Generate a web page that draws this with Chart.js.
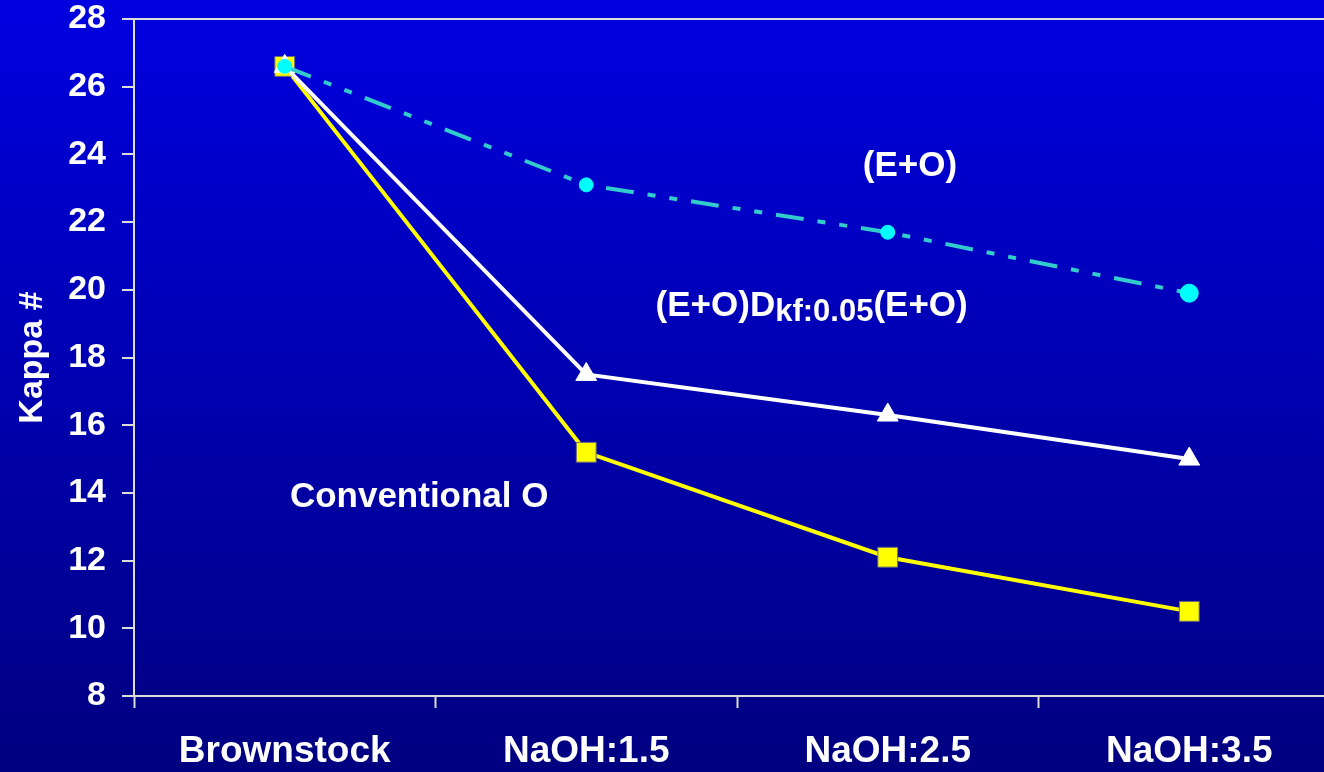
<!DOCTYPE html>
<html>
<head>
<meta charset="utf-8">
<script src="https://cdn.jsdelivr.net/npm/chart.js@4.4.1/dist/chart.umd.min.js"></script>
<style>
  html, body { margin: 0; padding: 0; overflow: hidden; background: linear-gradient(#0000e0, #000080); }
  canvas { display: block; }
</style>
</head>
<body>
<canvas id="grafico" width="1355" height="772"></canvas>
<script>
// Kappa # por estágio
const categorias = ["Brownstock", "NaOH:1.5", "NaOH:2.5", "NaOH:3.5"];
const serieEO = [26.6, 23.1, 21.7, 19.9];
const serieEODkf = [26.6, 17.5, 16.3, 15.0];
const serieConvO = [26.6, 15.2, 12.1, 10.5];
const yTicks = [8, 10, 12, 14, 16, 18, 20, 22, 24, 26, 28];

const fonte = "'Liberation Sans', Arial, sans-serif";
const corEixo = "#dcdcdc";

// textos soltos dentro do gráfico (posição em valores dos eixos)
const notas = [
  { x: 1.917, y: 23.65, partes: [{ t: "(E+O)", s: 35, dy: 0 }] },
  { x: 1.23, y: 19.5, partes: [{ t: "(E+O)D", s: 35, dy: 0 }, { t: "kf:0.05", s: 31, dy: 6 }, { t: "(E+O)", s: 35, dy: 0 }] },
  { x: 0.017, y: 13.88, partes: [{ t: "Conventional O", s: 35, dy: 0 }] }
];

const fundo = {
  id: "fundo",
  beforeDraw(chart) {
    const ctx = chart.ctx;
    const g = ctx.createLinearGradient(0, 0, 0, chart.height);
    g.addColorStop(0, "#0000e0");
    g.addColorStop(1, "#000080");
    ctx.save();
    ctx.fillStyle = g;
    ctx.fillRect(0, 0, chart.width, chart.height);
    ctx.restore();
  }
};

const textos = {
  id: "textos",
  afterDatasetsDraw(chart) {
    const ctx = chart.ctx;
    const sx = chart.scales.x, sy = chart.scales.y;
    ctx.save();
    ctx.fillStyle = "#ffffff";
    ctx.textAlign = "left";
    ctx.textBaseline = "middle";
    notas.forEach(n => {
      let px = sx.getPixelForValue(n.x);
      const py = sy.getPixelForValue(n.y);
      n.partes.forEach(p => {
        ctx.font = "bold " + p.s + "px " + fonte;
        ctx.fillText(p.t, px, py + p.dy);
        px += ctx.measureText(p.t).width;
      });
    });
    ctx.restore();
  }
};

new Chart(document.getElementById("grafico"), {
  type: "line",
  data: {
    labels: categorias,
    datasets: [
      {
        label: "(E+O)",
        data: serieEO,
        borderColor: "#33cccc",
        borderWidth: 4,
        borderDash: [28, 14, 8, 14, 8, 14],
        pointStyle: "circle",
        pointRadius: [7, 7, 7, 9],
        pointBackgroundColor: "#00ffff",
        pointBorderColor: "#00ffff",
        pointBorderWidth: 1,
        order: 1
      },
      {
        label: "(E+O)Dkf:0.05(E+O)",
        data: serieEODkf,
        borderColor: "#ffffff",
        borderWidth: 4,
        pointStyle: "triangle",
        pointRadius: 12,
        pointBackgroundColor: "#ffffff",
        pointBorderColor: "#ffffff",
        pointBorderWidth: 1,
        order: 2
      },
      {
        label: "Conventional O",
        data: serieConvO,
        borderColor: "#ffff00",
        borderWidth: 4,
        pointStyle: "rect",
        pointRadius: 14,
        pointBackgroundColor: "#ffff00",
        pointBorderColor: "#6b6b80",
        pointBorderWidth: 1,
        order: 3
      }
    ]
  },
  options: {
    responsive: false,
    animation: false,
    layout: { padding: { top: 19, left: 0, right: 0, bottom: 0 } },
    plugins: { legend: { display: false }, tooltip: { enabled: false } },
    scales: {
      x: {
        offset: true,
        grid: { offset: true, drawOnChartArea: false, drawTicks: true, tickLength: 12, tickWidth: 2, tickColor: corEixo },
        border: { color: corEixo, width: 2 },
        ticks: { color: "#ffffff", padding: 22, font: { family: fonte, size: 37, weight: "bold" } },
        afterFit: s => { s.height = 76; }
      },
      y: {
        min: 8,
        max: 28,
        afterBuildTicks: s => { s.ticks = yTicks.map(v => ({ value: v })); },
        grid: {
          color: c => (c.tick && c.tick.value === 28 ? corEixo : "transparent"),
          lineWidth: 2,
          drawTicks: true,
          tickLength: 12,
          tickWidth: 2,
          tickColor: corEixo
        },
        border: { color: corEixo, width: 2 },
        ticks: { color: "#ffffff", padding: 16, font: { family: fonte, size: 34, weight: "bold" } },
        title: { display: true, text: "Kappa #", color: "#ffffff", padding: { top: 12, bottom: 0 }, font: { family: fonte, size: 34, weight: "bold" } },
        afterFit: s => { s.width = 134; s.paddingTop = 0; s.paddingBottom = 0; }
      }
    }
  },
  plugins: [fundo, textos]
});
</script>
</body>
</html>
